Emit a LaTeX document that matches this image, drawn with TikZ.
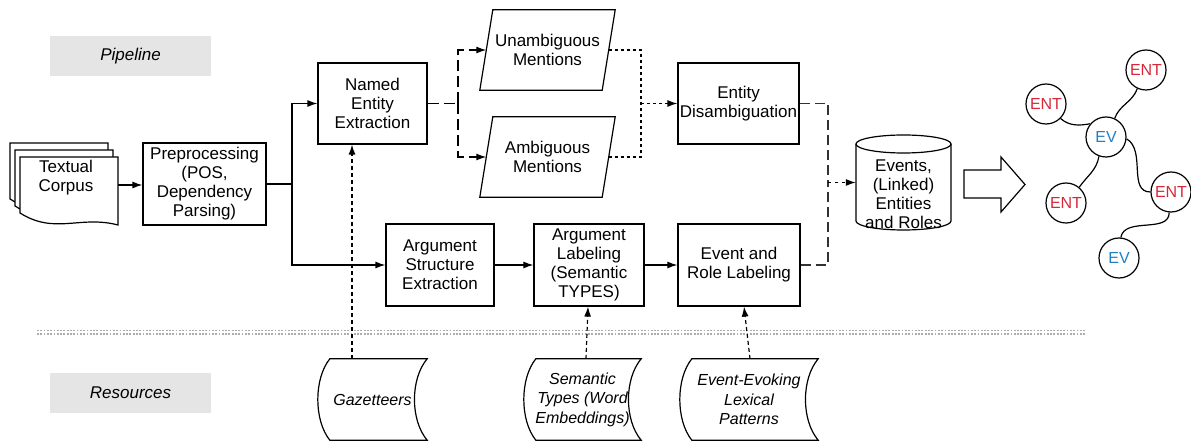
\documentclass[tikz,border=0pt]{standalone}
\usepackage{fontspec}
\setmainfont{Liberation Sans}
\usetikzlibrary{arrows.meta,calc}
\definecolor{entred}{RGB}{214,40,57}
\definecolor{evblue}{RGB}{30,128,196}
\definecolor{lblgray}{RGB}{229,229,229}
\definecolor{dashgray}{RGB}{50,50,50}
\newcommand\storedshape[1]{\draw[conn] ($(#1.north west)+(12,0)$) -- (#1.north east) .. controls ($(#1.north east)+(-17,20)$) and ($(#1.south east)+(-17,-20)$) .. (#1.south east) -- ($(#1.south west)+(12,0)$) .. controls ($(#1.south west)+(-4,-20)$) and ($(#1.north west)+(-4,20)$) .. cycle;}
\begin{document}
\begin{tikzpicture}[x=1pt,y=-1pt,
  every node/.style={font=\fontsize{17}{19}\selectfont, inner sep=0pt},
  proc/.style={draw, line width=1.2pt, align=center},
  plain/.style={align=center},
  conn/.style={line width=1.2pt},
  tip/.style={-{Latex[length=10pt,width=7pt]}},
  longdash/.style={conn, dash pattern=on 11pt off 5pt},
  greydash/.style={conn, draw=dashgray, dash pattern=on 10pt off 5pt},
  dots/.style={conn, dash pattern=on 3pt off 3pt},
  resarr/.style={conn, dash pattern=on 4pt off 3pt, tip},
  lbl/.style={fill=lblgray, minimum width=161pt, minimum height=40pt, font=\itshape\fontsize{17}{19}\selectfont},
  res/.style={align=center, font=\itshape\fontsize{16}{19.5}\selectfont, minimum height=81pt},
  gnode/.style={circle, draw, line width=1.2pt, minimum size=40pt, font=\fontsize{16}{18}\selectfont},
]
\useasboundingbox (0,0) rectangle (1191,443);

% side labels
\node[lbl] (pipe) at (130.5,56) {Pipeline};
\node[lbl] (resl) at (130.5,393) {Resources};

% separator
\draw[gray!65, line width=1.8pt, dash pattern=on 1.8pt off 1.5pt] (37,330.5) -- (1085,330.5);
\draw[gray!65, line width=1.8pt, dash pattern=on 1.8pt off 1.5pt] (37,334) -- (1085,334);

% textual corpus documents
\foreach \a/\b in {10/143, 15/150, 20/157}{
  \draw[conn, fill=white] (\a,\b) -- ({\a+98},\b) -- ({\a+98},{\b+68})
    .. controls ({\a+60},{\b+58}) and ({\a+35},{\b+78}) .. (\a,{\b+56}) -- cycle;
}
\node[plain] (corpus) at (66,178) {Textual\\Corpus};
\coordinate (docR) at (118,185);

% pipeline boxes
\node[proc, minimum width=123pt, minimum height=82pt] (pre) at (204.5,184) {Preprocessing\\(POS,\\Dependency\\Parsing)};
\node[proc, minimum width=109pt, minimum height=81pt] (nee) at (372.5,103.5) {Named\\Entity\\Extraction};
\node[proc, minimum width=121pt, minimum height=81pt] (ed) at (738.5,103.5) {Entity\\Disambiguation};
\node[proc, minimum width=108pt, minimum height=82pt] (ase) at (440,265) {Argument\\Structure\\Extraction};
\node[proc, minimum width=110pt, minimum height=82pt] (arg) at (589,265) {Argument\\Labeling\\(Semantic\\TYPES)};
\node[proc, minimum width=122pt, minimum height=82pt] (erl) at (739,265) {Event and\\Role Labeling};

% mentions (parallelograms)
\node[plain, minimum width=135pt, minimum height=80pt] (unamb) at (547.5,50) {Unambiguous\\Mentions};
\node[plain, minimum width=135pt, minimum height=80pt] (amb) at (547.5,157) {Ambiguous\\Mentions};
\foreach \n in {unamb, amb}{
  \draw[conn] ($(\n.north west)+(13,0)$) -- (\n.north east) -- ($(\n.south east)+(-13,0)$) -- (\n.south west) -- cycle;
}
\coordinate (unambIn) at ($(unamb.west)+(6.5,0)$);
\coordinate (ambIn) at ($(amb.west)+(6.5,0)$);
\coordinate (unambOut) at ($(unamb.east)+(-6.5,0)$);
\coordinate (ambOut) at ($(amb.east)+(-6.5,0)$);

% store cylinder
\node[minimum width=95pt, minimum height=95pt] (store) at (903.5,182.5) {};
\draw[conn] (856,144) -- (856,221) arc[start angle=180, end angle=0, x radius=47.5, y radius=9] -- (951,144);
\draw[conn] (903.5,144) ellipse [x radius=47.5, y radius=9];
\node[plain] (storetxt) at (903.5,194) {Events,\\(Linked)\\Entities\\and Roles};

% big hollow arrow
\draw[conn] (964,170) -- (1001,170) -- (1001,157) -- (1025,184.5) -- (1001,212) -- (1001,198) -- (964,198) -- cycle;

% graph
\node[gnode, text=entred] (ent1) at (1046,104) {ENT};
\node[gnode, text=entred] (ent2) at (1146,70) {ENT};
\node[gnode, text=evblue] (ev1) at (1106,137) {EV};
\node[gnode, text=entred] (ent3) at (1066,203) {ENT};
\node[gnode, text=entred] (ent4) at (1171,192) {ENT};
\node[gnode, text=evblue] (ev2) at (1119,258) {EV};
\draw[conn] (ent1.-45) to[out=-40, in=190] (ev1.140);
\draw[conn] (ent2.-115) to[out=-110, in=70] (ev1.65);
\draw[conn] (ev1.-110) to[out=-100, in=55] (ent3.50);
\draw[conn] (ev1.-5) to[out=-30, in=180] (ent4.180);
\draw[conn] (ent4.-95) to[out=-90, in=80] (ev2.85);

% resources
\node[res, minimum width=109pt] (gaz) at (372.5,399.5) {Gazetteers};
\node[res, minimum width=117pt] (sem) at (582.5,399.5) {Semantic\\Types (Word\\Embeddings)};
\node[res, minimum width=138pt] (evp) at (749,399.5) {Event-Evoking\\Lexical\\Patterns};
\storedshape{gaz}
\storedshape{sem}
\storedshape{evp}

% connectors
\draw[conn, tip] (docR) -- (pre.west |- docR);
\coordinate (split0) at (292,184);
\draw[conn] (pre.east |- split0) -- (split0);
\draw[conn, tip] (split0) |- (nee.west);
\draw[conn, tip] (split0) |- (ase.west);
\draw[conn, tip] (ase.east) -- (arg.west);
\draw[conn, tip] (arg.east) -- (erl.west);

\coordinate (split1) at (458,103.5);
\draw[longdash] (nee.east) -- (split1);
\draw[longdash, tip] (split1) |- (unambIn);
\draw[longdash, tip] (split1) |- (ambIn);

\coordinate (join1) at (641,103.5);
\draw[dots] (unambOut) -| (join1);
\draw[dots] (ambOut) -| (join1);
\draw[dots, tip] (join1) -- (ed.west);

\coordinate (join2) at (828,182.5);
\draw[greydash] (ed.east) -| (join2);
\draw[greydash] (erl.east) -| (join2);
\draw[conn, dash pattern=on 3pt off 4pt, tip] (join2) -- (store.west);

\draw[resarr] ([xshift=-20.5pt]gaz.north) -- ([xshift=-20.5pt]nee.south);
\draw[resarr] ([xshift=3.5pt]sem.north) -- ([xshift=-1pt]arg.south);
\draw[resarr] ([xshift=1pt]evp.north) -- ([xshift=5pt]erl.south);
\end{tikzpicture}
\end{document}
